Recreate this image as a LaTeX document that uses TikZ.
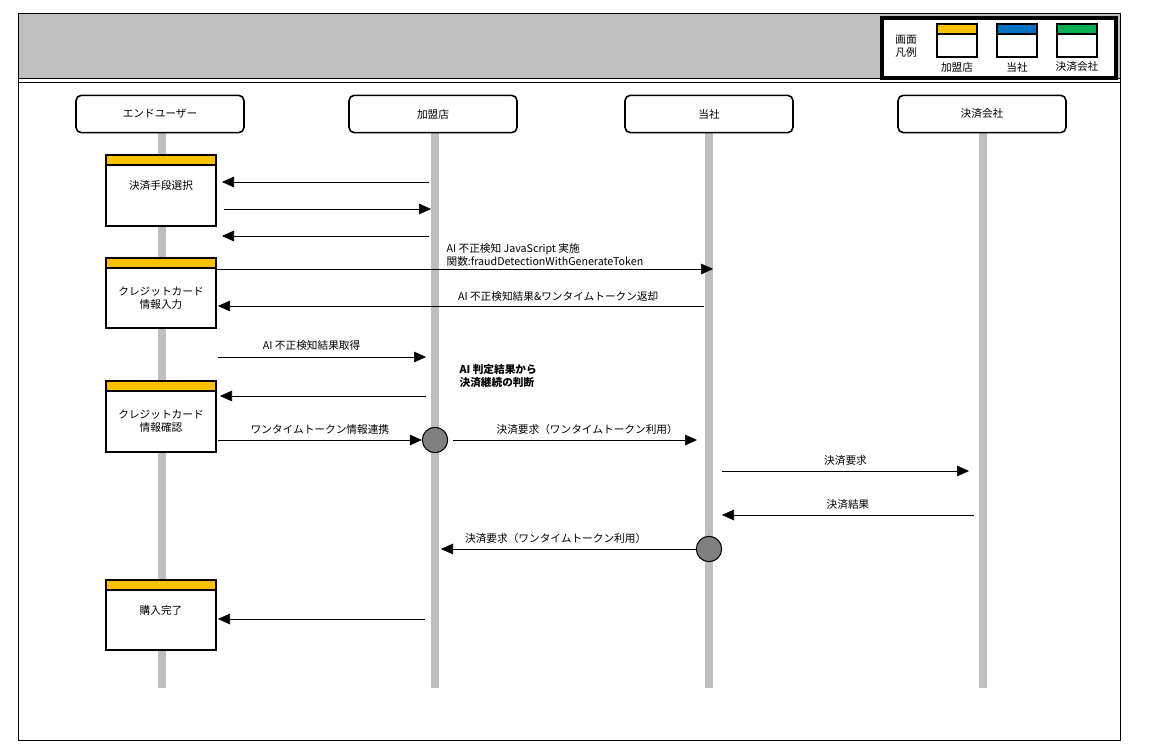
\documentclass[tikz,border=0pt]{standalone}
\usepackage{fontspec}
\setmainfont{Noto Sans CJK JP}
\usetikzlibrary{arrows.meta,positioning}

\definecolor{shopc}{HTML}{FFC000}
\definecolor{usc}{HTML}{0070C0}
\definecolor{payc}{HTML}{00B050}
\tikzset{
  actor/.style={draw,very thick,rounded corners=4pt,fill=white,minimum width=126pt,minimum height=28pt,font=\fontsize{8}{10}\selectfont},
  life/.style={line width=6pt,draw=black!25},
  msg/.style={-{Triangle[length=9pt,width=8pt]},black},
  lbl/.style={font=\fontsize{8}{10}\selectfont,inner sep=1pt},
  proc/.style={circle,draw,thick,fill=black!50,minimum size=19pt,inner sep=0pt}
}
% screen box: #1 colour, #2 x left, #3 y top, #4 y bottom
\newcommand{\screenbox}[4]{%
  \draw[very thick,fill=white] (#2,#3) rectangle ++(110,#4-#3);
  \draw[very thick,fill=#1] (#2,#3) rectangle ++(110,10);
}

\begin{document}
\begin{tikzpicture}[x=0.75pt,y=-0.75pt]
  \useasboundingbox (0,0) rectangle (1150,755);
  % Frame and header
  \draw (18,13) rectangle (1120,740);
  \draw[fill=black!25] (18,13) rectangle (1120,78);
  \draw (18,82) -- (1120,82);

  % Legend
  \draw[line width=2.5pt,fill=white] (882,18) rectangle (1116,78);
  \node[lbl,align=left] (legtitle) at (906,46) {画面\\凡例};
  \foreach \x/\c/\t in {937/shopc/加盟店, 997/usc/当社, 1057/payc/決済会社} {
    \draw[very thick,fill=white] (\x,24) rectangle (\x+40,57);
    \draw[very thick,fill=\c] (\x,24) rectangle (\x+40,34);
    \node[lbl] at (\x+20,67) {\t};
  }

  % Lifelines
  \foreach \n/\x in {user/162,shop/435,us/709,pay/983}
    \draw[life] (\x,133) -- (\x,688);
  \node[actor] (user) at (160,114) {エンドユーザー};
  \node[actor] (shop) at (433,114) {加盟店};
  \node[actor] (us) at (709,114) {当社};
  \node[actor] (pay) at (982,114) {決済会社};

  % Screens
  \screenbox{shopc}{106}{155}{226}
  \screenbox{shopc}{106}{258}{328}
  \screenbox{shopc}{106}{381}{452}
  \screenbox{shopc}{106}{580}{650}
  \node[lbl] (s1) at (161,186) {決済手段選択};
  \node[lbl,align=center] (s2) at (161,298) {クレジットカード\\情報入力};
  \node[lbl,align=center] (s3) at (161,421) {クレジットカード\\情報確認};
  \node[lbl] (s4) at (161,610) {購入完了};

  % Processing points
  \node[proc] (p1) at (435,440) {};
  \node[proc] (p2) at (709,549) {};

  % Messages
  \coordinate (a1) at (429,182); \coordinate (b1) at (222,182);
  \draw[msg] (a1) -- (b1);
  \coordinate (a2) at (224,209); \coordinate (b2) at (431,209);
  \draw[msg] (a2) -- (b2);
  \coordinate (a3) at (429,236); \coordinate (b3) at (222,236);
  \draw[msg] (a3) -- (b3);
  \coordinate (a4) at (216,269); \coordinate (b4) at (713,269);
  \draw[msg] (a4) -- (b4);
  \node[lbl,align=left,anchor=south west] at (445,268) {AI 不正検知 JavaScript 実施\\関数:fraudDetectionWithGenerateToken};
  \coordinate (a5) at (704,306); \coordinate (b5) at (218,306);
  \draw[msg] (a5) -- (b5) node[lbl,pos=0.3,above=2pt] {AI 不正検知結果\&ワンタイムトークン返却};
  \coordinate (a6) at (218,357); \coordinate (b6) at (426,357);
  \draw[msg] (a6) -- (b6) node[lbl,pos=0.45,above=4pt] {AI 不正検知結果取得};
  \node[lbl,align=left,anchor=west,font=\fontsize{8}{10}\selectfont\bfseries] (judge) at (458,376) {AI 判定結果から\\決済継続の判断};
  \coordinate (a8) at (426,396); \coordinate (b8) at (220,396);
  \draw[msg] (a8) -- (b8);
  \coordinate (a9) at (218,440);
  \draw[msg] (a9) -- (p1.west) node[lbl,pos=0.5,above=3pt] {ワンタイムトークン情報連携};
  \coordinate (a10) at (453,440); \coordinate (b10) at (697,440);
  \draw[msg] (a10) -- (b10) node[lbl,pos=0.55,above=3pt] {決済要求（ワンタイムトークン利用）};
  \coordinate (a11) at (722,471); \coordinate (b11) at (969,471);
  \draw[msg] (a11) -- (b11) node[lbl,midway,above=3pt] {決済要求};
  \coordinate (a12) at (974,515); \coordinate (b12) at (722,515);
  \draw[msg] (a12) -- (b12) node[lbl,midway,above=3pt] {決済結果};
  \coordinate (b13) at (441,549);
  \draw[msg] (p2.west) -- (b13) node[lbl,pos=0.55,above=3pt] {決済要求（ワンタイムトークン利用）};
  \coordinate (a14) at (425,619); \coordinate (b14) at (218,619);
  \draw[msg] (a14) -- (b14);
\end{tikzpicture}
\end{document}
